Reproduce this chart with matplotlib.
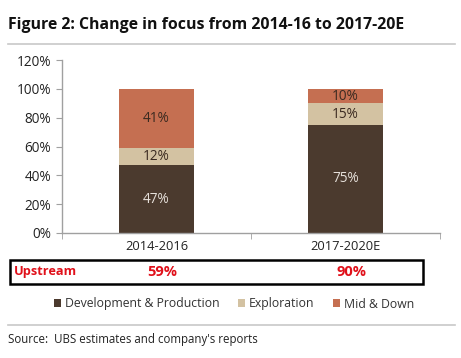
import matplotlib
matplotlib.use("Agg")
import matplotlib.pyplot as plt
from matplotlib.patches import Rectangle, Patch
from matplotlib.lines import Line2D

categories = ["2014-2016", "2017-2020E"]
dev_prod = [47, 75]
exploration = [12, 15]
mid_down = [41, 10]
upstream = ["59%", "90%"]
series_names = ["Development & Production", "Exploration", "Mid & Down"]
yticks = [0, 20, 40, 60, 80, 100, 120]

colors = ["#4B3A2E", "#D3C2A2", "#C56F51"]
label_colors = ["#E6E0DA", "#3a2a20", "#3a2a20"]

plt.rcParams['font.family'] = ['Open Sans', 'DejaVu Sans']

W, H = 461, 358
fig = plt.figure(figsize=(W/100, H/100), dpi=100)

def fx(px):
    return px / W
def fy(py):
    return 1 - py / H

ax = fig.add_axes([fx(62), fy(233), fx(440) - fx(62), fy(60) - fy(233)])

x = list(range(len(categories)))
width = 0.4
bottoms = [0] * len(categories)
for vals, c, lc, name in zip([dev_prod, exploration, mid_down], colors, label_colors, series_names):
    ax.bar(x, vals, width, bottom=bottoms, color=c, label=name)
    for xi, v, b in zip(x, vals, bottoms):
        ax.text(xi, b + v / 2, f"{v}%", ha="center", va="center", color=lc, fontsize=9.8)
    bottoms = [b + v for b, v in zip(bottoms, vals)]

ax.set_xlim(-0.5, len(categories) - 0.5)
ax.set_ylim(0, 120)
ax.set_yticks(yticks)
ax.set_yticklabels([f"{t}%" for t in yticks], fontsize=9.8, color="#222222")
ax.set_xticks(x)
ax.set_xticklabels(categories, fontsize=9.3, color="#222222")
ax.set_xticks([-0.5, 0.5, 1.5], minor=True)
ax.tick_params(axis="x", which="major", length=0, pad=5)
ax.tick_params(axis="x", which="minor", length=4, color="#a0a0a0", direction="out")
ax.tick_params(axis="y", length=4, color="#a0a0a0", direction="out", pad=4)
for s in ["top", "right"]:
    ax.spines[s].set_visible(False)
for s in ["left", "bottom"]:
    ax.spines[s].set_color("#a0a0a0")
    ax.spines[s].set_linewidth(1)

# Title and rules
fig.text(fx(8), fy(25), "Figure 2: Change in focus from 2014-16 to 2017-20E",
         fontsize=11.4, fontweight="bold", ha="left", va="center", color="#111111")
fig.add_artist(Line2D([fx(8), fx(455)], [fy(44), fy(44)], color="#c8c8c8", lw=1.2))
fig.add_artist(Line2D([fx(8), fx(455)], [fy(325), fy(325)], color="#c8c8c8", lw=1.2))

# Upstream box
fig.add_artist(Rectangle((fx(10), fy(284)), fx(423) - fx(10), fy(260) - fy(284),
                         fill=False, edgecolor="black", lw=1.8, transform=fig.transFigure))
fig.text(fx(14), fy(272), "Upstream", fontsize=9.2, fontweight="bold", color="#E0101A",
         ha="left", va="center")
for xi, u in zip(x, upstream):
    xd = ax.transData.transform((xi, 0))[0]
    xf = fig.transFigure.inverted().transform((xd, 0))[0]
    fig.text(xf + fx(6), fy(272), u, fontsize=10.5, fontweight="bold", color="#E0101A",
             ha="center", va="center")

# Legend
handles = [Patch(facecolor=c, edgecolor="none") for c in colors]
fig.legend(handles, series_names, loc="center", bbox_to_anchor=(fx(234), fy(304)),
           ncol=3, frameon=False, fontsize=8.8, handlelength=0.6, handleheight=0.6,
           handletextpad=0.3, columnspacing=1.5, labelcolor="#333333")

fig.text(fx(8), fy(339), "Source:  UBS estimates and company's reports",
         fontsize=8.3, ha="left", va="center", color="#222222")

fig.savefig("out.png", dpi=100)
